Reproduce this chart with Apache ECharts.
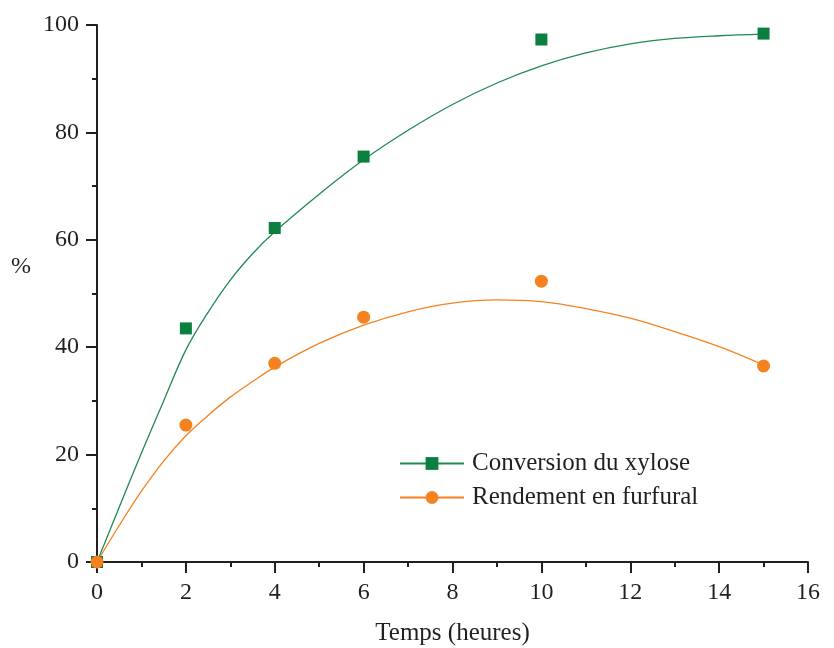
<!DOCTYPE html>
<html>
<head>
<meta charset="utf-8">
<script src="https://cdn.jsdelivr.net/npm/echarts@6/dist/echarts.min.js"></script>
<style>html,body{margin:0;padding:0;background:#fff}#c{width:834px;height:648px}</style>
</head>
<body>
<div id="c"></div>
<script>
// Measured points
const timeHours = [0, 2, 4, 6, 10, 15];
const xyloseConversion = [0, 43.5, 62.2, 75.5, 97.3, 98.4];
const furfuralYield = [0, 25.5, 37.0, 45.6, 52.3, 36.5];

// Fitted curves
const curveX = [0, 0.5, 1, 1.5, 2, 2.5, 3, 3.5, 4, 5, 6, 7, 8, 9, 10, 11, 12, 13, 14, 15];
const xyloseCurve = [0, 10.2, 20.3, 30.0, 39.5, 46.5, 52.5, 57.4, 61.5, 68.5, 74.9, 80.4, 85.2, 89.2, 92.4, 94.8, 96.5, 97.5, 98.0, 98.3];
const furfuralCurve = [0, 6.8, 13.2, 18.8, 23.5, 27.3, 30.7, 33.6, 36.3, 40.7, 44.1, 46.6, 48.2, 48.8, 48.5, 47.2, 45.4, 42.9, 40.1, 36.7];

const xTicks = {min: 0, max: 16, interval: 2};
const yTicks = {min: 0, max: 100, interval: 20};

const GREEN = '#0b7f3e';
const GREEN_LINE = '#1f8a52';
const ORANGE = '#f58220';
const AXIS = '#231f20';
const FONT = 'Liberation Serif';

const pair = (xs, ys) => xs.map((x, i) => [x, ys[i]]);

const chart = echarts.init(document.getElementById('c'));
const axisCommon = {
  axisLine: {show: true, lineStyle: {color: AXIS, width: 2}},
  axisTick: {show: true, inside: false, length: 11, lineStyle: {color: AXIS, width: 2}},
  minorTick: {show: true, splitNumber: 2, length: 5, lineStyle: {color: AXIS, width: 2}},
  splitLine: {show: false}
};
chart.setOption({
  animation: false,
  backgroundColor: '#fff',
  grid: {left: 97, right: 26, top: 25, bottom: 86, containLabel: false, outerBoundsMode: 'none'},
  xAxis: Object.assign({type: 'value', min: xTicks.min, max: xTicks.max, interval: xTicks.interval,
    name: 'Temps (heures)', nameLocation: 'middle', nameGap: 59,
    nameTextStyle: {color: AXIS, fontFamily: FONT, fontSize: 25},
    axisLabel: {color: AXIS, fontFamily: FONT, fontSize: 24, margin: 19}}, axisCommon),
  yAxis: Object.assign({type: 'value', min: yTicks.min, max: yTicks.max, interval: yTicks.interval,
    axisLabel: {color: AXIS, fontFamily: FONT, fontSize: 24, margin: 18}}, axisCommon),
  graphic: [{type: 'text', left: 11, top: 255, style: {text: '%', font: '24px "Liberation Serif"', fill: AXIS}}],
  legend: {
    left: 394, top: 446, orient: 'vertical', itemWidth: 64, itemHeight: 16, itemGap: 9,
    data: ['Conversion du xylose', 'Rendement en furfural'],
    textStyle: {color: AXIS, fontFamily: FONT, fontSize: 25, padding: [0, 0, 0, 3]}
  },
  series: [
    {name: 'Conversion du xylose', type: 'line', data: pair(curveX, xyloseCurve), smooth: 0.35,
     showSymbol: false, symbol: 'rect', symbolSize: 12, color: GREEN,
     itemStyle: {color: GREEN}, lineStyle: {color: GREEN_LINE, width: 1.3}, z: 2},
    {name: 'Rendement en furfural', type: 'line', data: pair(curveX, furfuralCurve), smooth: 0.35,
     showSymbol: false, symbol: 'circle', symbolSize: 13, color: ORANGE,
     itemStyle: {color: ORANGE}, lineStyle: {color: ORANGE, width: 1.3}, z: 2},
    {name: 'xylose pts', type: 'scatter', data: pair(timeHours, xyloseConversion), symbol: 'rect',
     symbolSize: 12, itemStyle: {color: GREEN, opacity: 1}, z: 3},
    {name: 'furfural pts', type: 'scatter', data: pair(timeHours, furfuralYield), symbol: 'circle',
     symbolSize: 13, itemStyle: {color: ORANGE, opacity: 1}, z: 4}
  ]
});
</script>
</body>
</html>
